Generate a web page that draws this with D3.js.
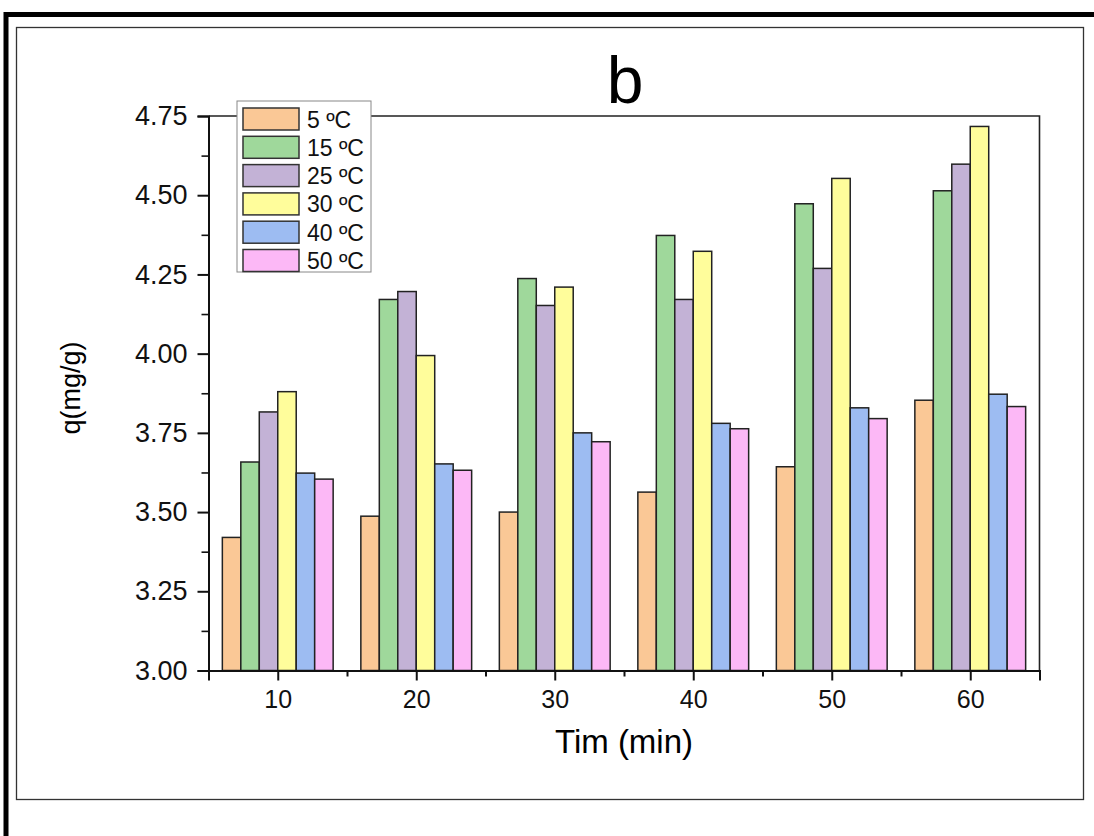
<!DOCTYPE html>
<html>
<head>
<meta charset="utf-8">
<script src="https://cdn.jsdelivr.net/npm/d3@7"></script>
<style>
  body { margin: 0; background: #fff; }
  text { font-family: "Liberation Sans", Arial, sans-serif; }
</style>
</head>
<body>
<div id="chart"></div>
<script>
//time points (min) on the x axis
const times = [10, 20, 30, 40, 50, 60]
//temperature series shown in the legend
const series = ['5 ºC', '15 ºC', '25 ºC', '30 ºC', '40 ºC', '50 ºC']
const colors = ['#fac896', '#9fd89b', '#c3b2d6', '#fffd9b', '#9dbcf2', '#fcb8f6']
//q (mg/g) for each series, one value per time point
const q5  = [3.420, 3.487, 3.500, 3.563, 3.643, 3.853]
const q15 = [3.658, 4.171, 4.237, 4.373, 4.473, 4.514]
const q25 = [3.816, 4.196, 4.152, 4.171, 4.269, 4.598]
const q30 = [3.880, 3.994, 4.210, 4.323, 4.553, 4.717]
const q40 = [3.623, 3.652, 3.750, 3.780, 3.829, 3.872]
const q50 = [3.604, 3.632, 3.722, 3.763, 3.795, 3.833]
const values = [q5, q15, q25, q30, q40, q50]
//axis ticks
const yTicks = [3.00, 3.25, 3.50, 3.75, 4.00, 4.25, 4.50, 4.75]
const yMinor = [3.125, 3.375, 3.625, 3.875, 4.125, 4.375, 4.625]
const xMinor = [5, 15, 25, 35, 45, 55, 65]

const W = 1094, H = 836
const svg = d3.select('#chart').append('svg')
  .attr('width', W).attr('height', H)

//outer frame (thick, only top and left are visible)
svg.append('path')
  .attr('d', `M6,${H} V14.5 H${W}`)
  .attr('fill', 'none').attr('stroke', '#000').attr('stroke-width', 5)

//inner frame
svg.append('rect')
  .attr('x', 16.5).attr('y', 27.5).attr('width', 1067).attr('height', 772)
  .attr('fill', 'none').attr('stroke', '#333').attr('stroke-width', 1.3)

//plot area
const pLeft = 208.5, pRight = 1039.5, pTop = 116, pBottom = 670.5
const x = d3.scaleLinear().domain([5, 65]).range([pLeft, pRight])
const y = d3.scaleLinear().domain([3, 4.75]).range([pBottom, pTop])

//bar width in data units (6 bars fill 8 minutes of each group)
const bw = 8 / 6

//bars
const rows = []
values.forEach((vals, i) => vals.forEach((v, j) => rows.push({s: i, t: times[j], v: v})))
svg.append('g').selectAll('rect')
  .data(rows)
  .join('rect')
    .attr('x', d => x(d.t + (d.s - 3) * bw))
    .attr('y', d => y(d.v))
    .attr('width', d => x(d.t + (d.s - 2) * bw) - x(d.t + (d.s - 3) * bw))
    .attr('height', d => y(3) - y(d.v))
    .attr('fill', d => colors[d.s])
    .attr('stroke', '#222')
    .attr('stroke-width', 1.5)

//plot box (top and right sides)
svg.append('path')
  .attr('d', `M${pLeft},${pTop} H${pRight} V${pBottom}`)
  .attr('fill', 'none').attr('stroke', '#222').attr('stroke-width', 1.6)

//x axis
const xAxis = svg.append('g')
  .attr('transform', `translate(0, ${pBottom})`)
  .call(d3.axisBottom(x).tickValues(times).tickSize(10).tickPadding(10))
xAxis.select('.domain').attr('stroke', '#111').attr('stroke-width', 2)
xAxis.selectAll('.tick line').attr('stroke', '#111').attr('stroke-width', 2)
xAxis.selectAll('text').style('font-size', '25px').attr('fill', '#111')
svg.append('g')
  .attr('transform', `translate(0, ${pBottom})`)
  .call(d3.axisBottom(x).tickValues(xMinor).tickSize(6).tickFormat(''))
  .call(g => g.select('.domain').remove())
  .selectAll('.tick line').attr('stroke', '#111').attr('stroke-width', 2)

//y axis
const yAxis = svg.append('g')
  .attr('transform', `translate(${pLeft}, 0)`)
  .call(d3.axisLeft(y).tickValues(yTicks).tickFormat(d3.format('.2f')).tickSize(11).tickPadding(10))
yAxis.select('.domain').attr('stroke', '#111').attr('stroke-width', 2)
yAxis.selectAll('.tick line').attr('stroke', '#111').attr('stroke-width', 2)
yAxis.selectAll('text').style('font-size', '27px').attr('fill', '#111')
svg.append('g')
  .attr('transform', `translate(${pLeft}, 0)`)
  .call(d3.axisLeft(y).tickValues(yMinor).tickSize(7).tickFormat(''))
  .call(g => g.select('.domain').remove())
  .selectAll('.tick line').attr('stroke', '#111').attr('stroke-width', 1.6)

//axis titles
svg.append('text')
  .attr('x', 624).attr('y', 753)
  .attr('text-anchor', 'middle')
  .style('font-size', '33px')
  .text('Tim (min)')
svg.append('text')
  .attr('transform', 'translate(80, 388) rotate(-90)')
  .attr('text-anchor', 'middle')
  .style('font-size', '27px')
  .text('q(mg/g)')

//panel letter
svg.append('text')
  .attr('x', 625).attr('y', 103)
  .attr('text-anchor', 'middle')
  .style('font-size', '66px')
  .text('b')

//legend
const legend = svg.append('g').attr('transform', 'translate(237, 101)')
legend.append('rect')
  .attr('width', 134).attr('height', 171)
  .attr('fill', '#fff').attr('stroke', '#888').attr('stroke-width', 1)
const item = legend.selectAll('g.item')
  .data(series)
  .join('g')
    .attr('class', 'item')
    .attr('transform', (d, i) => `translate(6, ${7 + i * 28.3})`)
item.append('rect')
  .attr('width', 56).attr('height', 22)
  .attr('fill', (d, i) => colors[i])
  .attr('stroke', '#333').attr('stroke-width', 1.5)
item.append('text')
  .attr('x', 64).attr('y', 19.5)
  .style('font-size', '23px')
  .attr('fill', '#111')
  .text(d => d)
</script>
</body>
</html>
